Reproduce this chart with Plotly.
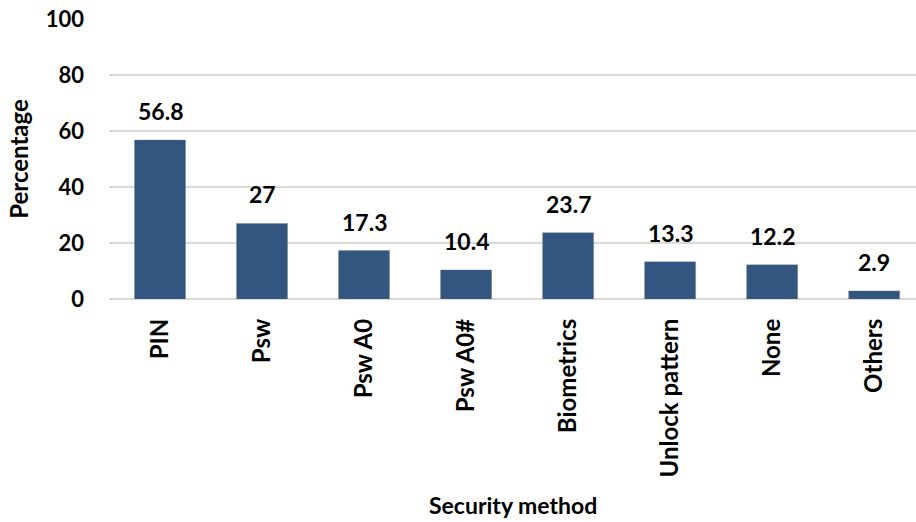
import plotly.graph_objects as go

categories = ["PIN", "Psw", "Psw A0", "Psw A0#", "Biometrics", "Unlock pattern", "None", "Others"]
values = [56.8, 27, 17.3, 10.4, 23.7, 13.3, 12.2, 2.9]
value_labels = ["56.8", "27", "17.3", "10.4", "23.7", "13.3", "12.2", "2.9"]
y_ticks = [0, 20, 40, 60, 80, 100]

FONT = "Lato"
BAR = "#32567F"

fig = go.Figure()
fig.add_trace(go.Bar(
    x=categories, y=values, width=0.5,
    marker=dict(color=BAR, line=dict(width=1, color="rgba(120,120,120,0.35)")),
    hoverinfo="skip",
))

for c, v, t in zip(categories, values, value_labels):
    fig.add_annotation(x=c, y=v, text=f"<b>{t}</b>", showarrow=False,
                       yanchor="bottom", yshift=13,
                       font=dict(family=FONT, size=23, color="#000000"))

fig.add_annotation(x=0.5, xref="paper", y=-(505 - 299) / 280, yref="paper",
                   text="<b>Security method</b>", showarrow=False,
                   xanchor="center", yanchor="middle", borderpad=0,
                   font=dict(family=FONT, size=23, color="#000000"))

fig.update_layout(
    width=916, height=522,
    margin=dict(l=109, r=0, t=19, b=223),
    plot_bgcolor="white", paper_bgcolor="white",
    showlegend=False,
    font=dict(family=FONT, size=20, color="#000000"),
    xaxis=dict(
        range=[-0.5, 7.41],
        tickangle=-90,
        tickfont=dict(family=FONT, size=24, color="#000000", weight="bold"),
        ticks="", showgrid=False, showline=False,
        ticklabelstandoff=14,
    ),
    yaxis=dict(
        range=[0, 100], tickvals=y_ticks,
        tickfont=dict(family=FONT, size=22, color="#000000", weight="bold"),
        ticks="", showgrid=True, gridcolor="#D9D9D9", gridwidth=1.5,
        zeroline=True, zerolinecolor="#D9D9D9", zerolinewidth=2,
        ticklabelstandoff=24,
        title=dict(text="<b>Percentage</b>", font=dict(family=FONT, size=24), standoff=10),
    ),
)

fig.write_html("out.html")
